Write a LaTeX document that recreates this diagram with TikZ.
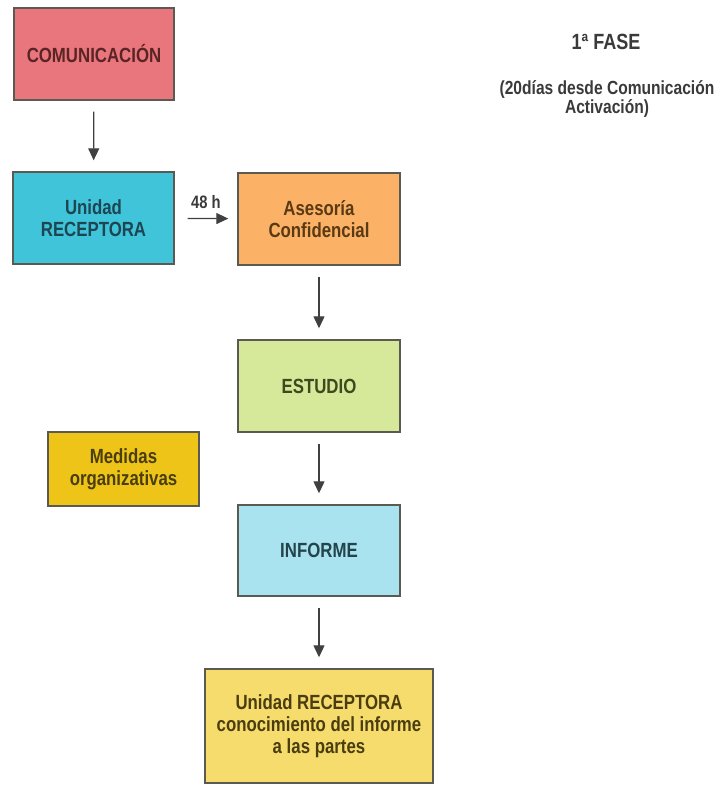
\documentclass[tikz,border=0pt]{standalone}
\usepackage{fontspec}
\setmainfont{Liberation Sans}[FakeStretch=0.82]
\usetikzlibrary{arrows.meta}
\definecolor{cComF}{HTML}{E8767C}
\definecolor{cComT}{HTML}{5A2426}
\definecolor{cUniF}{HTML}{40C4DA}
\definecolor{cUniT}{HTML}{1E4652}
\definecolor{cAseF}{HTML}{FBB266}
\definecolor{cAseT}{HTML}{5A3A14}
\definecolor{cEstF}{HTML}{D6E99B}
\definecolor{cEstT}{HTML}{3E4A1E}
\definecolor{cMedF}{HTML}{EEC418}
\definecolor{cMedT}{HTML}{4A3E0E}
\definecolor{cInfF}{HTML}{A9E3EF}
\definecolor{cInfT}{HTML}{24444C}
\definecolor{cFinF}{HTML}{F6DC6C}
\definecolor{cFinT}{HTML}{4A3E10}
\definecolor{cLine}{HTML}{5A5A52}
\definecolor{cTxt}{HTML}{3A3A3A}
\tikzset{
  box/.style={draw=cLine, line width=1.4pt, align=center, inner sep=0pt,
    font=\bfseries\fontsize{20.5}{22}\selectfont},
  flow/.style={draw=black!75, line width=1.2pt, -{Triangle[width=11pt,length=12pt]},
    shorten <=11pt, shorten >=11pt},
}
\begin{document}
\begin{tikzpicture}[x=1pt,y=-1pt]
\useasboundingbox (0,0) rectangle (726,785);
\node[box, fill=cComF, text=cComT, minimum width=160pt, minimum height=92pt] (com) at (94,54) {COMUNICACIÓN};
\node[box, fill=cUniF, text=cUniT, minimum width=161pt, minimum height=92pt] (uni) at (93.5,218) {Unidad\\RECEPTORA};
\node[box, fill=cAseF, text=cAseT, minimum width=162pt, minimum height=92pt] (ase) at (319,219) {Asesoría\\Confidencial};
\node[box, fill=cEstF, text=cEstT, minimum width=162pt, minimum height=92pt] (est) at (319,386) {ESTUDIO};
\node[box, fill=cMedF, text=cMedT, minimum width=151pt, minimum height=74pt] (med) at (123.5,469) {Medidas\\organizativas};
\node[box, fill=cInfF, text=cInfT, minimum width=162pt, minimum height=91pt] (inf) at (319,550.5) {INFORME};
\node[box, fill=cFinF, text=cFinT, minimum width=228pt, minimum height=114pt] (fin) at (319,726) {Unidad RECEPTORA\\conocimiento del informe\\a las partes};
\draw[flow] (com) -- (uni);
\draw[flow, shorten <=13pt, shorten >=9pt] (uni) -- node[above=6pt, text=cTxt, font=\bfseries\fontsize{18}{20}\selectfont] (h48) {48 h} (ase);
\draw[flow] (ase) -- (est);
\draw[flow] (est) -- (inf);
\draw[flow] (inf) -- (fin);
\node[text=cTxt, font=\bfseries\fontsize{22}{24}\selectfont] (fase) at (606,42) {1ª FASE};
\node[text=cTxt, align=center, font=\bfseries\fontsize{19}{19}\selectfont] (dias) at (607,99) {(20días desde Comunicación\\Activación)};
\end{tikzpicture}
\end{document}
